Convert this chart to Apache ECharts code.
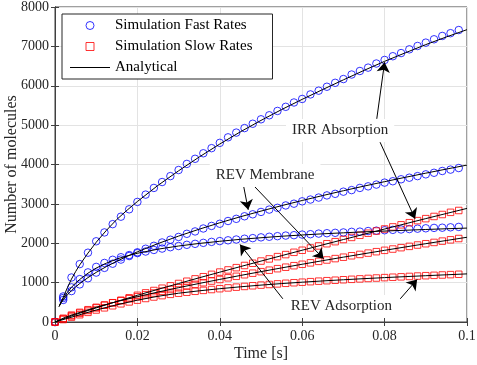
<!DOCTYPE html>
<html><head><meta charset="utf-8">
<script src="https://cdn.jsdelivr.net/npm/echarts@6/dist/echarts.min.js"></script>
<style>html,body{margin:0;padding:0;background:#fff;}#c{width:477px;height:365px;}</style>
</head><body><div id="c"></div>
<script>
// ---- data ----
const tSim = [0,0.002,0.004,0.006,0.008,0.010,0.012,0.014,0.016,0.018,0.020,0.022,0.024,0.026,0.028,0.030,0.032,0.034,0.036,0.038,0.040,0.042,0.044,0.046,0.048,0.050,0.052,0.054,0.056,0.058,0.060,0.062,0.064,0.066,0.068,0.070,0.072,0.074,0.076,0.078,0.080,0.082,0.084,0.086,0.088,0.090,0.092,0.094,0.096,0.098];

const fastIRR = [0,650,1130,1470,1760,2050,2275,2485,2675,2862,3050,3235,3405,3555,3705,3860,4015,4145,4285,4415,4550,4690,4810,4925,5035,5148,5250,5360,5465,5575,5665,5780,5875,5975,6075,6170,6285,6375,6460,6565,6655,6750,6830,6925,7010,7095,7180,7265,7335,7415];
const fastMembrane = [0,560,785,955,1110,1255,1375,1480,1585,1675,1770,1860,1935,2020,2090,2160,2240,2300,2375,2440,2495,2565,2620,2685,2735,2795,2855,2900,2960,3005,3065,3110,3160,3215,3255,3310,3350,3405,3445,3490,3540,3575,3625,3665,3705,3750,3790,3835,3870,3910];
const fastAdsorption = [0,610,880,1090,1260,1400,1500,1580,1645,1700,1750,1790,1830,1865,1900,1930,1960,1985,2010,2035,2055,2075,2095,2115,2130,2150,2165,2180,2195,2205,2220,2230,2245,2255,2265,2275,2290,2295,2310,2320,2330,2340,2350,2360,2370,2380,2390,2395,2405,2415];

const slowIRR = [0,80,155,225,292,358,425,490,553,615,678,740,800,858,918,978,1035,1095,1150,1210,1268,1322,1380,1435,1492,1548,1602,1660,1712,1770,1822,1880,1932,1988,2040,2095,2148,2202,2255,2310,2362,2415,2468,2522,2575,2625,2680,2730,2785,2832];
const slowMembrane = [0,95,175,245,312,373,432,487,540,592,640,690,736,782,826,870,914,956,998,1040,1080,1122,1160,1200,1240,1278,1316,1354,1392,1430,1466,1502,1540,1575,1610,1646,1682,1716,1750,1786,1820,1853,1888,1921,1955,1988,2021,2054,2087,2120];
const slowAdsorption = [0,62,124,185,245,305,360,412,462,510,555,597,635,670,702,731,756,780,803,825,846,866,885,903,920,937,953,968,983,997,1011,1024,1037,1049,1061,1073,1084,1095,1106,1117,1127,1137,1147,1157,1167,1176,1185,1194,1203,1212];

const tLineFast = [0.001,0.0015,0.002,0.003,0.004,0.005,0.006,0.008,0.01,0.0125,0.015,0.0175,0.02,0.025,0.03,0.035,0.04,0.045,0.05,0.055,0.06,0.065,0.07,0.075,0.08,0.085,0.09,0.095,0.1];
const lineFastIRR = [395,520,625,870,1090,1280,1450,1750,2025,2330,2605,2840,3060,3470,3840,4190,4520,4830,5120,5395,5655,5905,6150,6390,6620,6835,7045,7240,7425];
const lineFastMembrane = [398,488,563,690,797,891,976,1127,1260,1409,1543,1667,1782,1992,2182,2357,2520,2673,2817,2955,3086,3212,3334,3451,3564,3674,3780,3884,3985];
const lineFastAdsorption = [395,505,600,750,880,990,1080,1240,1370,1495,1600,1680,1745,1850,1930,1995,2050,2100,2140,2178,2210,2240,2265,2290,2310,2330,2350,2368,2385];

const tLineSlow = [0,0.0025,0.005,0.0075,0.01,0.015,0.02,0.025,0.03,0.035,0.04,0.045,0.05,0.055,0.06,0.065,0.07,0.075,0.08,0.085,0.09,0.095,0.1];
const lineSlowIRR = [0,98,190,275,358,522,678,830,977,1123,1266,1407,1547,1685,1823,1959,2094,2228,2361,2494,2626,2756,2885];
const lineSlowMembrane = [0,120,210,290,375,518,643,761,872,979,1082,1182,1279,1374,1467,1558,1647,1734,1820,1905,1989,2070,2152];
const lineSlowAdsorption = [0,77,153,230,305,437,555,653,731,792,846,894,937,976,1011,1043,1073,1101,1127,1152,1176,1199,1222];

const xTicks = [0,0.02,0.04,0.06,0.08,0.1];
const yTicks = [0,1000,2000,3000,4000,5000,6000,7000,8000];

const legendNames = ['Simulation Fast Rates','Simulation Slow Rates','Analytical'];

// annotations: label position and arrows, in data coordinates
const annotations = [
  {text:'IRR Absorption', at:[0.0692,4863], arrows:[[[0.0781,5160],[0.0800,6598]],[[0.0789,4566],[0.0874,2621]]]},
  {text:'REV Membrane', at:[0.0510,3721], arrows:[[[0.0456,3550],[0.0469,2850]],[[0.0478,3510],[0.0652,1605]]]},
  {text:'REV Adsorption', at:[0.0695,394], arrows:[[[0.0553,589],[0.0449,1968]],[[0.0838,589],[0.0879,1080]]]}
];

// ---- chart ----
const FONT = '"Liberation Serif","Times New Roman",serif';
const pair = (xs, ys) => xs.map((x, i) => [x, ys[i]]);
const AX = '#404040';
const chart = echarts.init(document.getElementById('c'));

function scatter(name, ys, color, symbol, size) {
  return {type:'scatter', name:name, data:pair(tSim, ys), symbol:symbol, symbolSize:size,
    itemStyle:{color:'rgba(0,0,0,0)', borderColor:color, borderWidth:1}, z:2, silent:true};
}
function curve(xs, ys) {
  return {type:'line', name:'Analytical', data:pair(xs, ys), symbol:'none', showSymbol:false,
    smooth:false, lineStyle:{color:'#000', width:1}, itemStyle:{color:'#000'}, z:3, silent:true};
}

const markLineData = [];
const markPointData = [];
annotations.forEach(a => {
  a.arrows.forEach(ar => markLineData.push([{coord:ar[0]},{coord:ar[1]}]));
  markPointData.push({coord:a.at, value:a.text});
});

const series = [
  scatter(legendNames[0], fastIRR, '#0000ff', 'circle', 7.5),
  scatter(legendNames[0], fastMembrane, '#0000ff', 'circle', 7.5),
  scatter(legendNames[0], fastAdsorption, '#0000ff', 'circle', 7.5),
  scatter(legendNames[1], slowIRR, '#ff0000', 'rect', 6.5),
  scatter(legendNames[1], slowMembrane, '#ff0000', 'rect', 6.5),
  scatter(legendNames[1], slowAdsorption, '#ff0000', 'rect', 6.5),
  curve(tLineFast, lineFastIRR),
  curve(tLineFast, lineFastMembrane),
  curve(tLineFast, lineFastAdsorption),
  curve(tLineSlow, lineSlowIRR),
  curve(tLineSlow, lineSlowMembrane),
  curve(tLineSlow, lineSlowAdsorption)
];
series.push({
  type:'line', name:'annot', data:[], z:5, silent:true,
  markLine:{silent:true, animation:false, symbol:['none','arrow'], symbolSize:10,
    label:{show:false}, lineStyle:{color:'#000', width:1, type:'solid'}, data:markLineData},
  markPoint:{silent:true, animation:false, symbol:'circle', symbolSize:0,
    label:{show:true, position:'inside', formatter:p => p.value, color:'#262626',
      fontFamily:FONT, fontSize:15, backgroundColor:'#fff', padding:[4,6]},
    data:markPointData}
});

const xLabelFmt = v => String(+v.toFixed(2));
chart.setOption({
  animation:false,
  grid:{left:55, right:10, top:7, bottom:43, containLabel:false, outerBoundsMode:'none',
    show:true, borderColor:AX, borderWidth:1, backgroundColor:'#fff'},
  legend:{
    data:[
      {name:legendNames[0], icon:'circle', itemStyle:{color:'rgba(0,0,0,0)', borderColor:'#0000ff', borderWidth:1}},
      {name:legendNames[1], icon:'path://M0,0H10V10H0Z', itemStyle:{color:'rgba(0,0,0,0)', borderColor:'#ff0000', borderWidth:1}},
      {name:legendNames[2], icon:'path://M0,0H40V1H0Z', itemStyle:{color:'#000', borderWidth:0}}
    ],
    orient:'vertical', left:62, top:14, itemWidth:40, itemHeight:8, itemGap:6,
    symbolKeepAspect:true,
    backgroundColor:'#fff', borderColor:'#262626', borderWidth:1, padding:[4,20,4,8],
    textStyle:{fontFamily:FONT, fontSize:15, color:'#000', lineHeight:15},
    selectedMode:false
  },
  xAxis:[{
    type:'value', min:xTicks[0], max:xTicks[xTicks.length-1], interval:0.02,
    axisLine:{show:true, onZero:false, lineStyle:{color:AX}},
    axisTick:{show:true, inside:true, length:4, lineStyle:{color:AX}},
    axisLabel:{color:'#262626', fontFamily:FONT, fontSize:14, margin:7, formatter:xLabelFmt},
    splitLine:{show:true, lineStyle:{color:'#e3e3e3'}},
    name:'Time [s]', nameLocation:'middle', nameGap:24, nameMoveOverlap:false,
    nameTextStyle:{color:'#262626', fontFamily:FONT, fontSize:16}
  },{
    type:'value', position:'top', min:xTicks[0], max:xTicks[xTicks.length-1], interval:0.02,
    axisLine:{show:true, lineStyle:{color:AX}},
    axisTick:{show:true, inside:true, length:4, lineStyle:{color:AX}},
    axisLabel:{show:false}, splitLine:{show:false}
  }],
  yAxis:[{
    type:'value', min:yTicks[0], max:yTicks[yTicks.length-1], interval:1000,
    axisLine:{show:true, onZero:false, lineStyle:{color:AX}},
    axisTick:{show:true, inside:true, length:4, lineStyle:{color:AX}},
    axisLabel:{color:'#262626', fontFamily:FONT, fontSize:14, margin:6, formatter:v => String(v)},
    splitLine:{show:true, lineStyle:{color:'#e3e3e3'}},
    name:'Number of molecules', nameLocation:'middle', nameGap:35, nameMoveOverlap:false,
    nameTextStyle:{color:'#262626', fontFamily:FONT, fontSize:16}
  },{
    type:'value', position:'right', min:yTicks[0], max:yTicks[yTicks.length-1], interval:1000,
    axisLine:{show:true, lineStyle:{color:AX}},
    axisTick:{show:true, inside:true, length:4, lineStyle:{color:AX}},
    axisLabel:{show:false}, splitLine:{show:false}
  }],
  series:series
});
</script></body></html>
